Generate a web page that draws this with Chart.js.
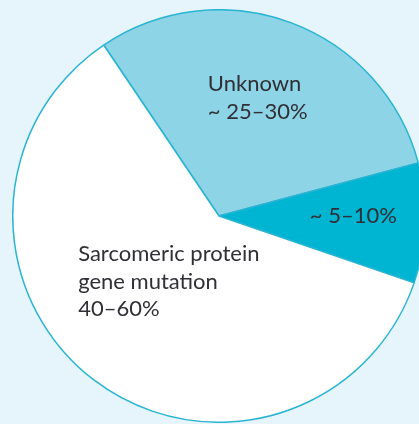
<!DOCTYPE html>
<html>
<head>
<meta charset="utf-8">
<script src="https://cdn.jsdelivr.net/npm/chart.js@4"></script>
<style>
  html, body { margin: 0; padding: 0; width: 419px; height: 424px; overflow: hidden; background: #e6f4fb; }
  #wrap { position: absolute; left: 12px; top: 9px; width: 414px; height: 414px; }
</style>
</head>
<body>
<div id="wrap"><canvas id="pieChart"></canvas></div>
<script>
// slices, clockwise from the upper-left edge
const categories = ['Unknown', '~ 5–10%', 'Sarcomeric protein gene mutation'];
const shares = [30.3, 9.4, 60.3];
const sliceLabels = [
    ['Unknown', '~ 25–30%'],
    ['~ 5–10%'],
    ['Sarcomeric protein', 'gene mutation', '40–60%']
];
const sliceColors = ['#8dd4e6', '#00b5d1', '#ffffff'];

// first-line baseline of each label, relative to the pie centre, in units of the radius
const labelAnchors = [
    { x: -0.054, y: -0.605 },
    { x: 0.44, y: 0.034 },
    { x: -0.683, y: 0.22 }
];

const sliceText = {
    id: 'sliceText',
    afterDatasetsDraw(chart) {
        const ctx = chart.ctx;
        const arc = chart.getDatasetMeta(0).data[0];
        const cx = arc.x, cy = arc.y, r = arc.outerRadius;
        ctx.save();
        ctx.fillStyle = '#2f2f35';
        ctx.font = '22px Lato, "Open Sans", sans-serif';
        ctx.textAlign = 'left';
        ctx.textBaseline = 'alphabetic';
        const lineH = 27.5;
        sliceLabels.forEach((lines, i) => {
            const a = labelAnchors[i];
            const x = cx + a.x * r;
            const y0 = cy + a.y * r;
            lines.forEach((t, k) => ctx.fillText(t, x, y0 + k * lineH));
        });
        ctx.restore();
    }
};

new Chart(document.getElementById('pieChart'), {
    type: 'pie',
    data: {
        labels: categories,
        datasets: [{
            data: shares,
            backgroundColor: sliceColors,
            borderColor: '#2ab4d2',
            borderWidth: 1.5
        }]
    },
    options: {
        responsive: true,
        maintainAspectRatio: false,
        animation: false,
        rotation: -34,
        layout: { padding: 0 },
        plugins: { legend: { display: false }, tooltip: { enabled: false } }
    },
    plugins: [sliceText]
});
</script>
</body>
</html>
